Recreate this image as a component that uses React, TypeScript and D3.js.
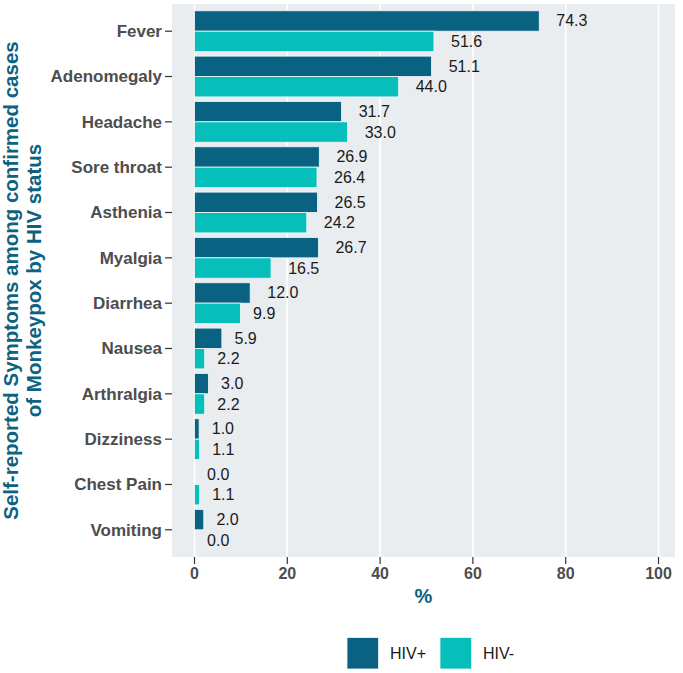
import React from "react";
import * as d3 from "d3";

const categories = ["Fever", "Adenomegaly", "Headache", "Sore throat", "Asthenia", "Myalgia", "Diarrhea", "Nausea", "Arthralgia", "Dizziness", "Chest Pain", "Vomiting"];
const hivPos = [74.3, 51.1, 31.7, 26.9, 26.5, 26.7, 12.0, 5.9, 3.0, 1.0, 0.0, 2.0];
const hivNeg = [51.6, 44.0, 33.0, 26.4, 24.2, 16.5, 9.9, 2.2, 2.2, 1.1, 1.1, 0.0];
const seriesNames = ["HIV+", "HIV-"];
const xTicks = [0, 20, 40, 60, 80, 100];

const COL_POS = "#0a6282";
const COL_NEG = "#07bfba";
const PANEL_BG = "#e9edf0";
const TITLE_COL = "#0b6282";
const FONT = "'Liberation Sans', Arial, sans-serif";

export default function App() {
  const W = 683, H = 673;
  const pL = 172, pR = 675, pT = 4, pB = 557;
  const x = d3.scaleLinear().domain([0, 100]).range([194.5, 658.5]);
  const y = d3.scalePoint<string>().domain(categories).range([pT, pB]).padding(0.6);
  const step = y.step();
  const bw = step * 0.45;
  const labelFs = 16;
  const textW = (s: string) => {
    let w = 0;
    for (const c of s) w += c === "." ? 0.278 : 0.556;
    return w * labelFs;
  };
  const series = [hivPos, hivNeg];
  const colors = [COL_POS, COL_NEG];

  return (
    <svg width={W} height={H} style={{ position: "absolute", left: 0, top: 0 }} fontFamily={FONT}>
      <rect x={0} y={0} width={W} height={H} fill="white" />
      <rect x={pL} y={pT} width={pR - pL} height={pB - pT} fill={PANEL_BG} />
      {xTicks.map((t) => (
        <line key={"g" + t} x1={x(t)} x2={x(t)} y1={pT} y2={pB} stroke="white" strokeWidth={1.6} />
      ))}
      {categories.map((c, i) => {
        const cy = y(c)!;
        return (
          <g key={c}>
            {series.map((s, k) => {
              const top = cy - 0.9 * step / 2 + k * bw;
              const v = s[i];
              const lbl = v.toFixed(1);
              return (
                <g key={k}>
                  {v > 0 && (
                    <rect x={x(0)} y={top} width={x(v) - x(0)} height={bw} fill={colors[k]} stroke="#f4f7f8" strokeWidth={0.8} />
                  )}
                  <text x={x(v) + textW(lbl) / 2 + 1.5} y={top + bw / 2 + 5.5} fontSize={labelFs} fill="#1a1a1a">
                    {lbl}
                  </text>
                </g>
              );
            })}
            <line x1={pL - 7} x2={pL} y1={cy} y2={cy} stroke="#333" strokeWidth={1.2} />
            <text x={pL - 10} y={cy + 5.8} fontSize={17} fontWeight="bold" fill="#4d4d4d" textAnchor="end">
              {c}
            </text>
          </g>
        );
      })}
      {xTicks.map((t) => (
        <g key={"t" + t}>
          <line x1={x(t)} x2={x(t)} y1={pB} y2={pB + 7} stroke="#333" strokeWidth={1.2} />
          <text x={x(t)} y={579} fontSize={16} fontWeight="bold" fill="#4d4d4d" textAnchor="middle">
            {t}
          </text>
        </g>
      ))}
      <text x={(pL + pR) / 2} y={603} fontSize={20} fontWeight="bold" fill={TITLE_COL} textAnchor="middle">
        %
      </text>
      <g transform={`translate(0, ${(pT + pB) / 2}) rotate(-90)`}>
        <text x={0} y={18} fontSize={20.5} fontWeight="bold" fill={TITLE_COL} textAnchor="middle">
          Self-reported Symptoms among confirmed cases
        </text>
        <text x={0} y={41} fontSize={20.5} fontWeight="bold" fill={TITLE_COL} textAnchor="middle">
          of Monkeypox by HIV status
        </text>
      </g>
      {seriesNames.map((n, k) => {
        const kx = k === 0 ? 347 : 440;
        return (
          <g key={n}>
            <rect x={kx} y={637.5} width={31.5} height={31.5} fill={colors[k]} stroke="#f4f7f8" strokeWidth={0.8} />
            <text x={kx + 43} y={659} fontSize={16} fill="#1a1a1a">
              {n}
            </text>
          </g>
        );
      })}
    </svg>
  );
}
